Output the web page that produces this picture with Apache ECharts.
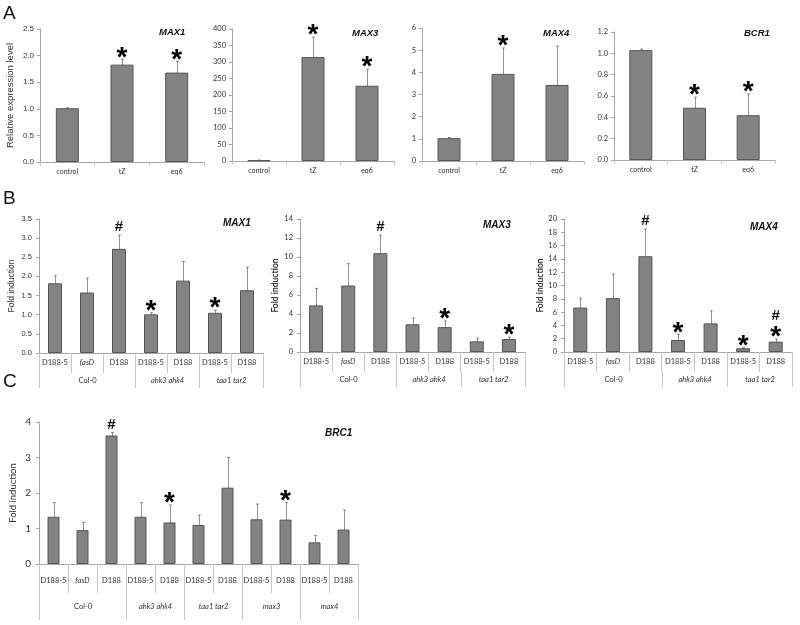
<!DOCTYPE html>
<html><head><meta charset="utf-8">
<script src="https://cdn.jsdelivr.net/npm/echarts@6/dist/echarts.min.js"></script>
<style>html,body{margin:0;padding:0;background:#fff}#c{width:800px;height:625px}</style>
</head><body><div id="c"></div>
<script>
const FONT = 'Lato, "Open Sans", sans-serif';
const ARIAL = '"Liberation Sans", Arial, sans-serif';

// ---------- Panel A ----------
const catsA = ['control', 'tZ', 'eq6'];
const a1Values = [1.01, 1.83, 1.68];
const a1Low    = [1.00, 1.73, 1.47];
const a1High   = [1.02, 1.93, 1.89];
const a1Marks  = ['', '*', '*'];
const a2Values = [2, 315, 228];
const a2Low    = [1, 255, 177];
const a2High   = [3, 375, 278];
const a2Marks  = ['', '*', '*'];
const a3Values = [1.03, 3.93, 3.43];
const a3Low    = [1.00, 2.75, 1.67];
const a3High   = [1.06, 5.10, 5.18];
const a3Marks  = ['', '*', ''];
const a4Values = [1.03, 0.49, 0.42];
const a4Low    = [1.02, 0.40, 0.22];
const a4High   = [1.04, 0.59, 0.62];
const a4Marks  = ['', '*', '*'];

// ---------- Panel B ----------
const catsB = ['D188-5', 'fasD', 'D188', 'D188-5', 'D188', 'D188-5', 'D188'];
const groupsB = ['Col-0', 'ahk3 ahk4', 'taa1 tar2'];
const groupStartB = [0, 3, 5];
const groupEndB = [2, 4, 6];
const b1Values = [1.82, 1.58, 2.72, 1.01, 1.89, 1.05, 1.64];
const b1Low    = [1.62, 1.20, 2.36, 0.97, 1.39, 0.98, 1.03];
const b1High   = [2.02, 1.96, 3.08, 1.05, 2.39, 1.12, 2.24];
const b1Marks  = ['', '', '#', '*', '', '*', ''];
const b2Values = [4.9, 7.0, 10.4, 2.92, 2.62, 1.12, 1.36];
const b2Low    = [3.1, 4.7, 8.6, 2.27, 2.0, 0.77, 1.15];
const b2High   = [6.7, 9.3, 12.3, 3.57, 3.26, 1.47, 1.57];
const b2Marks  = ['', '', '#', '', '*', '', '*'];
const b3Values = [6.68, 8.1, 14.4, 1.8, 4.3, 0.55, 1.56];
const b3Low    = [5.18, 4.3, 10.25, 0.9, 2.56, 0.45, 1.15];
const b3High   = [8.09, 11.7, 18.5, 2.66, 6.2, 0.65, 1.96];
const b3Marks  = ['', '', '#', '*', '', '*', '#*'];

// ---------- Panel C ----------
const catsC = ['D188-5', 'fasD', 'D188', 'D188-5', 'D188', 'D188-5', 'D188', 'D188-5', 'D188', 'D188-5', 'D188'];
const groupsC = ['Col-0', 'ahk3 ahk4', 'taa1 tar2', 'max3', 'max4'];
const groupStartC = [0, 3, 5, 7, 9];
const groupEndC = [2, 4, 6, 8, 10];
const cValues = [1.33, 0.955, 3.62, 1.33, 1.17, 1.10, 2.15, 1.26, 1.25, 0.61, 0.97];
const cLow    = [0.89, 0.74, 3.53, 0.89, 0.69, 0.83, 1.30, 0.84, 0.74, 0.42, 0.39];
const cHigh   = [1.73, 1.17, 3.70, 1.73, 1.66, 1.38, 3.00, 1.69, 1.73, 0.80, 1.52];
const cMarks  = ['', '', '#', '', '*', '', '', '', '*', '', ''];

const grids = [], xAxes = [], yAxes = [], series = [];

function errRender(params, api) {
  const x = api.value(0);
  const lo = api.coord([x, api.value(1)]);
  const hi = api.coord([x, api.value(2)]);
  const c = 'rgba(0,0,0,0.42)', w = 1.5;
  const X = Math.round(hi[0]) + 0.5;
  return { type: 'group', children: [
    { type: 'line', shape: { x1: X, y1: hi[1], x2: X, y2: lo[1] }, style: { stroke: c, lineWidth: 1 } },
    { type: 'line', shape: { x1: X - w, y1: hi[1], x2: X + w, y2: hi[1] }, style: { stroke: c, lineWidth: 1 } },
    { type: 'line', shape: { x1: X - w, y1: lo[1], x2: X + w, y2: lo[1] }, style: { stroke: c, lineWidth: 1 } }
  ]};
}

function markRender(marks) {
  return function (params, api) {
    const x = api.value(0);
    const p = api.coord([x, api.value(1)]);
    const m = marks[params.dataIndex] || '';
    const children = [];
    let y = p[1] - 8;
    for (let k = m.length - 1; k >= 0; k--) {
      const ch = m[k];
      if (ch === '*') {
        children.push({ type: 'text', x: p[0], y: y + 6.5, style: { text: '*', fontSize: 28, fontWeight: 'bold', fontFamily: ARIAL, fill: '#000', align: 'center', verticalAlign: 'middle' } });
      } else {
        children.push({ type: 'text', x: p[0], y: y, style: { text: '#', fontSize: 15, fontWeight: 'bold', fontFamily: ARIAL, fill: '#111', align: 'center', verticalAlign: 'middle' } });
      }
      y -= 15;
    }
    return { type: 'group', children };
  };
}

function groupRender(names, tickLen, lineEnd, labelOff, fontSize) {
  return function (params, api) {
    const s = api.value(0), e = api.value(2);
    const band = api.size([1, 0])[0];
    const p0 = api.coord([s, 0]), p1 = api.coord([e, 0]);
    const l = Math.round(p0[0] - band / 2) + 0.5, r = Math.round(p1[0] + band / 2) + 0.5, y0 = p0[1];
    const name = names[params.dataIndex];
    return { type: 'group', children: [
      { type: 'line', shape: { x1: l, y1: y0 + tickLen, x2: l, y2: y0 + lineEnd }, style: { stroke: '#c8c8c8', lineWidth: 1 } },
      { type: 'line', shape: { x1: r, y1: y0 + tickLen, x2: r, y2: y0 + lineEnd }, style: { stroke: '#c8c8c8', lineWidth: 1 } },
      { type: 'text', x: (l + r) / 2, y: y0 + labelOff, style: { text: name, fontSize: fontSize, fontStyle: name === 'Col-0' ? 'normal' : 'italic', fontFamily: FONT, fill: '#333', align: 'center', verticalAlign: 'middle' } }
    ]};
  };
}

function addChart(o) {
  const gi = grids.length;
  grids.push({ left: o.left, top: o.top, width: o.width, height: o.height });
  xAxes.push({
    type: 'category', gridIndex: gi, data: o.cats, boundaryGap: true,
    axisLine: { show: true, lineStyle: { color: '#a6a6a6', width: 1 } },
    axisTick: { show: true, interval: 0, length: o.tickLen, lineStyle: { color: '#c8c8c8' } },
    axisLabel: {
      interval: 0, margin: o.labelMargin, fontSize: o.catFont, color: '#333', fontFamily: FONT,
      formatter: v => v === 'fasD' ? '{i|fasD}' : v,
      rich: { i: { fontStyle: 'italic', fontSize: o.catFont, fontFamily: FONT, color: '#333' } }
    },
    splitLine: { show: false }
  });
  yAxes.push({
    type: 'value', gridIndex: gi, min: 0, max: o.max, interval: o.interval,
    axisLine: { show: true, lineStyle: { color: '#a6a6a6', width: 1 } },
    axisTick: { show: true, length: 3, lineStyle: { color: '#a6a6a6' } },
    axisLabel: { fontSize: o.yFont, color: '#333', fontFamily: o.yFamily || FONT, margin: o.yMargin,
      formatter: v => o.decimals ? v.toFixed(o.decimals) : String(v) },
    splitLine: { show: false },
    name: o.yName || '', nameLocation: 'middle', nameGap: o.nameGap || 20, nameRotate: 90,
    nameTextStyle: { fontSize: o.nameFont || 9, fontFamily: o.yFamily || FONT, color: '#333', fontWeight: o.nameBold ? 'bold' : 'normal' }
  });
  series.push({ type: 'bar', xAxisIndex: gi, yAxisIndex: gi, data: o.values, barWidth: o.barWidth,
    itemStyle: { color: '#838383', borderColor: '#555555', borderWidth: 1 }, silent: true });
  series.push({ type: 'custom', xAxisIndex: gi, yAxisIndex: gi, clip: false, silent: true,
    data: o.values.map((v, i) => [i, o.low[i], o.high[i]]), encode: { x: 0, y: [1, 2] }, renderItem: errRender });
  series.push({ type: 'custom', xAxisIndex: gi, yAxisIndex: gi, clip: false, silent: true,
    data: o.values.map((v, i) => [i, o.high[i]]), encode: { x: 0, y: 1 }, renderItem: markRender(o.marks) });
  if (o.groups) {
    series.push({ type: 'custom', xAxisIndex: gi, yAxisIndex: gi, clip: false, silent: true,
      data: o.groupStart.map((s, k) => [s, 0, o.groupEnd[k]]), encode: { x: 0, y: 1 },
      renderItem: groupRender(o.groups, o.tickLen, o.groupLineEnd, o.groupLabelOff, o.groupFont) });
  }
}

// Panel A charts
const aCommon = { cats: catsA, tickLen: 4, labelMargin: 6, catFont: 7, barWidth: 23, yFont: 7.5, yMargin: 6 };
addChart(Object.assign({}, aCommon, { left: 40, top: 29, width: 164, height: 133, values: a1Values, low: a1Low, high: a1High, marks: a1Marks,
  max: 2.5, interval: 0.5, decimals: 1, yFamily: ARIAL, yFont: 8, yName: 'Relative expression level', nameGap: 25, nameFont: 9.5 }));
addChart(Object.assign({}, aCommon, { left: 232, top: 29, width: 162, height: 132, values: a2Values, low: a2Low, high: a2High, marks: a2Marks,
  max: 400, interval: 50 }));
addChart(Object.assign({}, aCommon, { left: 422, top: 28, width: 162, height: 133, values: a3Values, low: a3Low, high: a3High, marks: a3Marks,
  max: 6, interval: 1 }));
addChart(Object.assign({}, aCommon, { left: 614, top: 32, width: 161, height: 128, values: a4Values, low: a4Low, high: a4High, marks: a4Marks,
  max: 1.2, interval: 0.2, decimals: 1 }));

// Panel B charts
const bCommon = { cats: catsB, tickLen: 20, labelMargin: 6, catFont: 7.5, barWidth: 14, yFont: 7.5, yMargin: 7,
  groups: groupsB, groupStart: groupStartB, groupEnd: groupEndB, groupLineEnd: 35, groupLabelOff: 28, groupFont: 7.5, yName: 'Fold induction', nameFont: 8.5 };
addChart(Object.assign({}, bCommon, { left: 39, top: 219, width: 224, height: 134, values: b1Values, low: b1Low, high: b1High, marks: b1Marks,
  max: 3.5, interval: 0.5, decimals: 1, nameGap: 23, yFamily: ARIAL }));
addChart(Object.assign({}, bCommon, { left: 300, top: 219, width: 225, height: 133, values: b2Values, low: b2Low, high: b2High, marks: b2Marks,
  max: 14, interval: 2, nameGap: 20, nameBold: true }));
addChart(Object.assign({}, bCommon, { left: 564, top: 219, width: 228, height: 133, values: b3Values, low: b3Low, high: b3High, marks: b3Marks,
  max: 20, interval: 2, nameGap: 18, nameBold: true }));

// Panel C chart
addChart({ cats: catsC, tickLen: 29, labelMargin: 13, catFont: 7.5, barWidth: 12, yFont: 10, yMargin: 8,
  groups: groupsC, groupStart: groupStartC, groupEnd: groupEndC, groupLineEnd: 56, groupLabelOff: 43, groupFont: 7.5,
  left: 39, top: 422, width: 319, height: 142, values: cValues, low: cLow, high: cHigh, marks: cMarks,
  max: 4, interval: 1, yName: 'Fold induction', nameFont: 9.5, nameGap: 21 });

function txt(x, y, t, size, opts) {
  return Object.assign({ type: 'text', x: x, y: y, style: Object.assign({ text: t, fontSize: size, fontFamily: ARIAL, fill: '#111' }, opts || {}) });
}
const geneStyle = { fontWeight: 'bold', fontStyle: 'italic', fill: '#111' };
const graphics = [
  txt(3, 4, 'A', 19), txt(3, 189, 'B', 19), txt(3, 372, 'C', 19),
  txt(159, 27, 'MAX1', 9.5, geneStyle), txt(352, 28, 'MAX3', 9.5, geneStyle),
  txt(543, 28, 'MAX4', 9.5, geneStyle), txt(744, 28, 'BCR1', 9.5, geneStyle),
  txt(223, 218, 'MAX1', 10, geneStyle), txt(483, 220, 'MAX3', 10, geneStyle),
  txt(750, 222, 'MAX4', 10, geneStyle), txt(325, 428, 'BRC1', 10, geneStyle)
];

const chart = echarts.init(document.getElementById('c'), null, { renderer: 'canvas' });
chart.setOption({
  animation: false,
  backgroundColor: '#fff',
  grid: grids, xAxis: xAxes, yAxis: yAxes, series: series,
  graphic: graphics
});
</script></body></html>
